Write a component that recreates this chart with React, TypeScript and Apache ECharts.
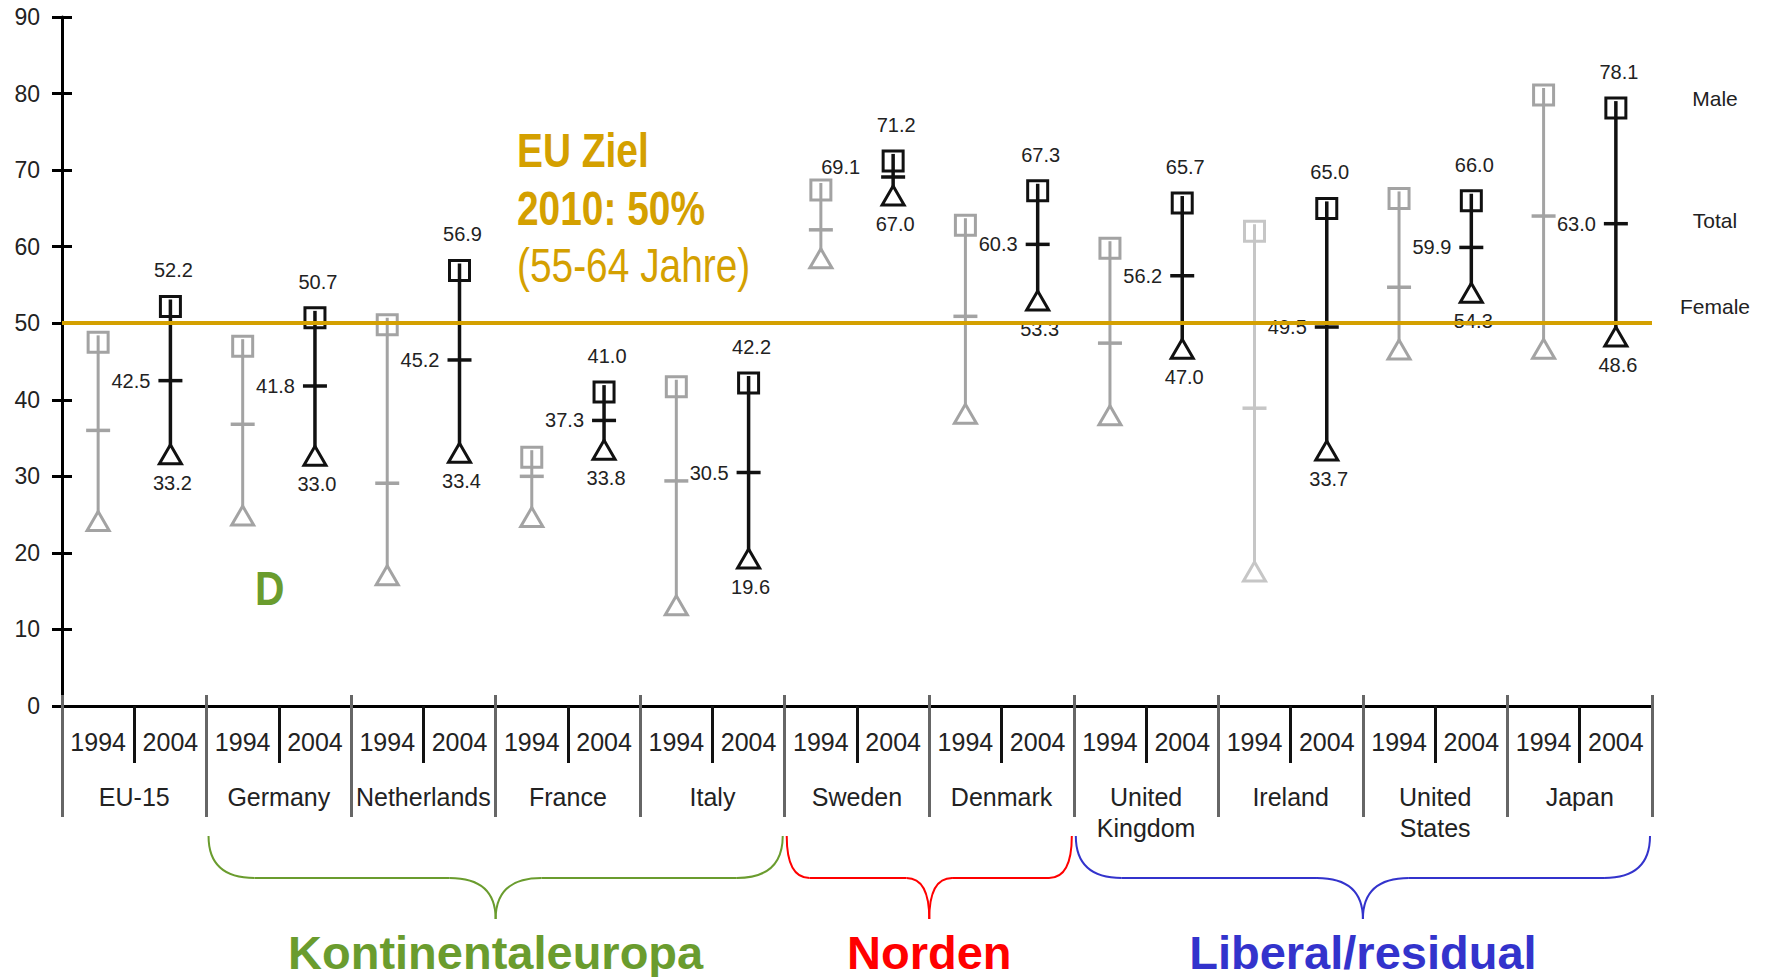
import React, { useEffect, useRef } from "react";
import * as echarts from "echarts";

const countries = ["EU-15", "Germany", "Netherlands", "France", "Italy", "Sweden", "Denmark", "United\nKingdom", "Ireland", "United\nStates", "Japan"];
const years = ["1994", "2004"];
const yTicks = [0, 10, 20, 30, 40, 50, 60, 70, 80, 90];

const male1994 = [47.5, 47.0, 49.8, 32.5, 41.7, 67.4, 62.8, 59.8, 62.0, 66.3, 79.8];
const total1994 = [36.0, 36.8, 29.1, 30.0, 29.4, 62.2, 50.9, 47.4, 38.9, 54.7, 64.0];
const female1994 = [24.5, 25.2, 17.4, 25.0, 13.5, 58.8, 38.5, 38.3, 17.9, 46.9, 47.0];

const male2004 = [52.2, 50.7, 56.9, 41.0, 42.2, 71.2, 67.3, 65.7, 65.0, 66.0, 78.1];
const total2004 = [42.5, 41.8, 45.2, 37.3, 30.5, 69.1, 60.3, 56.2, 49.5, 59.9, 63.0];
const female2004 = [33.2, 33.0, 33.4, 33.8, 19.6, 67.0, 53.3, 47.0, 33.7, 54.3, 48.6];

const euTarget = 50;
const targetText = ["EU Ziel", "2010: 50%", "(55-64 Jahre)"];
const regimes = [
  { name: "Kontinentaleuropa", from: 1, to: 4, color: "#6A9C2E" },
  { name: "Norden", from: 5, to: 6, color: "#FF0000" },
  { name: "Liberal/residual", from: 7, to: 10, color: "#3333CC" },
];
const rightLabels = ["Male", "Total", "Female"];

const FONT = "'Liberation Sans', Arial, Helvetica, sans-serif";
const GOLD = "#D4A000";

const yearCats: string[] = [];
countries.forEach(() => years.forEach((y) => yearCats.push(y)));

function makeRenderItem(isNew: boolean) {
  return (params: any, api: any) => {
    const idx = api.value(0);
    const ci = api.value(4);
    const pm = api.coord([idx, api.value(1)]);
    const pt = api.coord([idx, api.value(2)]);
    const pf = api.coord([idx, api.value(3)]);
    const x = pm[0];
    const color = isNew ? "#111111" : ci === 8 ? "#c6c6c6" : "#a3a3a3";
    const children: any[] = [
      { type: "line", shape: { x1: x, y1: pm[1] - 7, x2: x, y2: pf[1] }, style: { stroke: color, lineWidth: isNew ? 3.5 : 3 } },
      { type: "line", shape: { x1: x - 12, y1: pt[1], x2: x + 12, y2: pt[1] }, style: { stroke: color, lineWidth: 3.5 } },
      {
        type: "polygon",
        shape: { points: [[x, pf[1] - 7], [x - 11, pf[1] + 12], [x + 11, pf[1] + 12]] },
        style: { fill: "#ffffff", stroke: color, lineWidth: 3 },
      },
      { type: "rect", shape: { x: x - 10, y: pm[1] - 10, width: 20, height: 20 }, style: { fill: "none", stroke: color, lineWidth: 3 } },
    ];
    if (isNew) {
      const lab = (text: string, lx: number, ly: number, align: string) => ({
        type: "text",
        x: lx,
        y: ly,
        style: { text, fill: "#222222", font: `20px ${FONT}`, align, verticalAlign: "middle" },
      });
      children.push(lab(api.value(1).toFixed(1), x + 3, pm[1] - 36, "center"));
      if (ci === 5) children.push(lab(api.value(2).toFixed(1), x - 33, pt[1] - 10, "right"));
      else children.push(lab(api.value(2).toFixed(1), x - 20, pt[1], "right"));
      children.push(lab(api.value(3).toFixed(1), x + 2, pf[1] + 31, "center"));
    }
    return { type: "group", children };
  };
}

export default function App() {
  const ref = useRef<HTMLDivElement>(null);
  useEffect(() => {
    const chart = echarts.init(ref.current!, null, { renderer: "svg" });
    const data1994 = countries.map((c, i) => [2 * i, male1994[i], total1994[i], female1994[i], i]);
    const data2004 = countries.map((c, i) => [2 * i + 1, male2004[i], total2004[i], female2004[i], i]);

    const option: any = {
      animation: false,
      backgroundColor: "#ffffff",
      grid: { left: 62, right: 114, top: 17, bottom: 271, containLabel: false },
      xAxis: [
        {
          type: "category",
          data: yearCats,
          position: "bottom",
          boundaryGap: true,
          axisLine: { show: true, lineStyle: { color: "#000", width: 3 } },
          axisTick: {
            show: true,
            length: 57,
            interval: (i: number) => i % 2 === 1,
            lineStyle: { color: "#111", width: 3 },
          },
          axisLabel: { interval: 0, fontSize: 25, lineHeight: 28, margin: 22, color: "#222", fontFamily: FONT },
          splitLine: { show: false },
        },
        {
          type: "category",
          data: countries,
          position: "bottom",
          boundaryGap: true,
          axisLine: { show: false },
          axisTick: { show: true, length: 111, interval: 0, lineStyle: { color: "#666", width: 3 } },
          axisLabel: { interval: 0, fontSize: 25, lineHeight: 31, margin: 75, color: "#222", fontFamily: FONT },
          splitLine: { show: false },
        },
        {
          type: "category",
          data: countries,
          position: "bottom",
          boundaryGap: true,
          axisLine: { show: false },
          axisTick: { show: true, inside: true, length: 11, interval: 0, lineStyle: { color: "#666", width: 3 } },
          axisLabel: { show: false },
          splitLine: { show: false },
        },
      ],
      yAxis: [
        {
          type: "value",
          min: yTicks[0],
          max: yTicks[yTicks.length - 1],
          interval: 10,
          axisLine: { show: true, lineStyle: { color: "#000", width: 3 } },
          axisTick: { show: true, length: 10, lineStyle: { color: "#000", width: 3 } },
          axisLabel: { fontSize: 23, margin: 22, color: "#222", fontFamily: FONT },
          splitLine: { show: false },
        },
        {
          type: "value",
          position: "left",
          min: yTicks[0],
          max: yTicks[yTicks.length - 1],
          interval: 10,
          axisLine: { show: false },
          axisTick: { show: true, inside: true, length: 10, lineStyle: { color: "#000", width: 3 } },
          axisLabel: { show: false },
          splitLine: { show: false },
        },
      ],
      series: [
        {
          type: "custom",
          name: "1994",
          xAxisIndex: 0,
          yAxisIndex: 0,
          renderItem: makeRenderItem(false),
          encode: { x: 0, y: [1, 2, 3] },
          data: data1994,
          clip: false,
          z: 2,
        },
        {
          type: "custom",
          name: "2004",
          xAxisIndex: 0,
          yAxisIndex: 0,
          renderItem: makeRenderItem(true),
          encode: { x: 0, y: [1, 2, 3] },
          data: data2004,
          clip: false,
          z: 3,
        },
        {
          type: "line",
          name: "target",
          xAxisIndex: 0,
          yAxisIndex: 0,
          data: [],
          z: 10,
          markLine: {
            silent: true,
            symbol: "none",
            label: { show: false },
            lineStyle: { color: GOLD, width: 4, type: "solid" },
            data: [{ yAxis: euTarget }],
          },
        },
      ],
    };
    chart.setOption(option);

    const c0 = chart.convertToPixel({ xAxisIndex: 1 }, 0) as number;
    const c1 = chart.convertToPixel({ xAxisIndex: 1 }, 1) as number;
    const half = (c1 - c0) / 2;
    const graphics: any[] = [];

    targetText.forEach((t, i) => {
      graphics.push({
        type: "text",
        x: 517,
        y: 150 + i * 57.5,
        scaleX: 0.81,
        style: {
          text: t,
          fill: GOLD,
          font: `${i < 2 ? "bold " : ""}48px ${FONT}`,
          align: "left",
          verticalAlign: "middle",
        },
        z: 20,
      });
    });

    graphics.push({
      type: "text",
      x: 255,
      y: 588,
      scaleX: 0.85,
      style: { text: "D", fill: "#6A9C2E", font: `bold 48px ${FONT}`, align: "left", verticalAlign: "middle" },
      z: 20,
    });

    const rightY = [98, 220, 306];
    rightLabels.forEach((t, i) => {
      graphics.push({
        type: "text",
        x: 1715,
        y: rightY[i],
        style: { text: t, fill: "#222", font: `21px ${FONT}`, align: "center", verticalAlign: "middle" },
      });
    });

    const y0 = 836, y1 = 878, y2 = 919;
    regimes.forEach((g) => {
      const xl = (chart.convertToPixel({ xAxisIndex: 1 }, g.from) as number) - half + 2;
      const xr = (chart.convertToPixel({ xAxisIndex: 1 }, g.to) as number) + half - 2;
      const xc = (xl + xr) / 2;
      const r = (xr - xl) * 0.08;
      const st = { stroke: g.color, lineWidth: 2, fill: "none" };
      graphics.push(
        { type: "bezierCurve", shape: { x1: xl, y1: y0, cpx1: xl, cpy1: y1, x2: xl + r, y2: y1 }, style: st },
        { type: "line", shape: { x1: xl + r, y1: y1, x2: xc - r, y2: y1 }, style: st },
        { type: "bezierCurve", shape: { x1: xc - r, y1: y1, cpx1: xc, cpy1: y1, x2: xc, y2: y2 }, style: st },
        { type: "bezierCurve", shape: { x1: xc, y1: y2, cpx1: xc, cpy1: y1, x2: xc + r, y2: y1 }, style: st },
        { type: "line", shape: { x1: xc + r, y1: y1, x2: xr - r, y2: y1 }, style: st },
        { type: "bezierCurve", shape: { x1: xr - r, y1: y1, cpx1: xr, cpy1: y1, x2: xr, y2: y0 }, style: st },
        {
          type: "text",
          x: xc,
          y: 952,
          style: { text: g.name, fill: g.color, font: `bold 47px ${FONT}`, align: "center", verticalAlign: "middle" },
        }
      );
    });

    chart.setOption({ graphic: graphics });
    return () => chart.dispose();
  }, []);
  return <div ref={ref} style={{ position: "absolute", left: 0, top: 0, width: 1766, height: 977 }} />;
}
